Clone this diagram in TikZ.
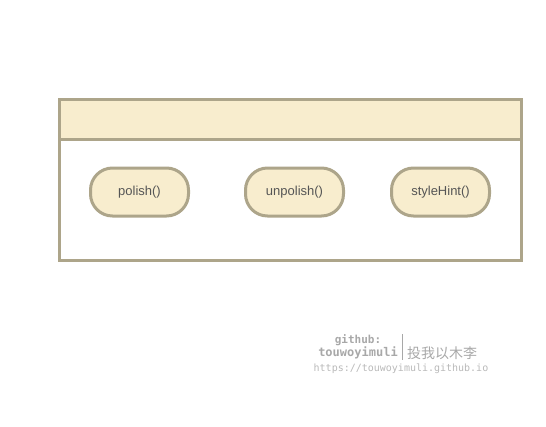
\documentclass[tikz,border=0pt]{standalone}
\usepackage{fontspec}
\setmainfont{Liberation Sans}
\newfontfamily\monofont{DejaVu Sans Mono}
\newfontfamily\cjk{Noto Sans CJK SC}
\definecolor{rim}{HTML}{ADA58A}
\definecolor{cream}{HTML}{F8EDCE}
\definecolor{txt}{HTML}{555555}
\definecolor{wmgray}{HTML}{A8A8A8}
\tikzset{
  method/.style={draw=rim, line width=3pt, fill=cream, rounded corners=22pt,
    minimum width=98pt, minimum height=48pt, text=txt,
    font=\fontsize{13}{15}\selectfont},
  wm/.style={text=wmgray, inner sep=0pt}
}
\begin{document}
\begin{tikzpicture}[x=1pt,y=-1pt]
      \useasboundingbox (0,0) rectangle (546,426);
      \fill[cream] (59.5,99.5) rectangle (521.5,139.5);
      \draw[rim, line width=3pt] (59.5,99.5) rectangle (521.5,260.5);
      \draw[rim, line width=3pt] (59.5,139.5) -- (521.5,139.5);
      \node[method] (polish) at (139.5,192) {polish()};
      \node[method] (unpolish) at (294.5,192) {unpolish()};
      \node[method] (stylehint) at (440.5,192) {styleHint()};
      % watermark
      \node[wm, font=\monofont\bfseries\fontsize{11}{12}\selectfont] (gh) at (358,340) {github:};
      \node[wm, font=\monofont\bfseries\fontsize{12}{13}\selectfont] (user) at (358,353) {touwoyimuli};
      \draw[wmgray, line width=1pt] (402,334) -- (402,360);
      \node[wm, font=\cjk\fontsize{14}{15}\selectfont, anchor=west] (cn) at (407,353) {投我以木李};
      \node[wm, text=wmgray!80, font=\monofont\fontsize{10}{11}\selectfont] (url) at (401,369) {https://touwoyimuli.github.io};
    \end{tikzpicture}
\end{document}
